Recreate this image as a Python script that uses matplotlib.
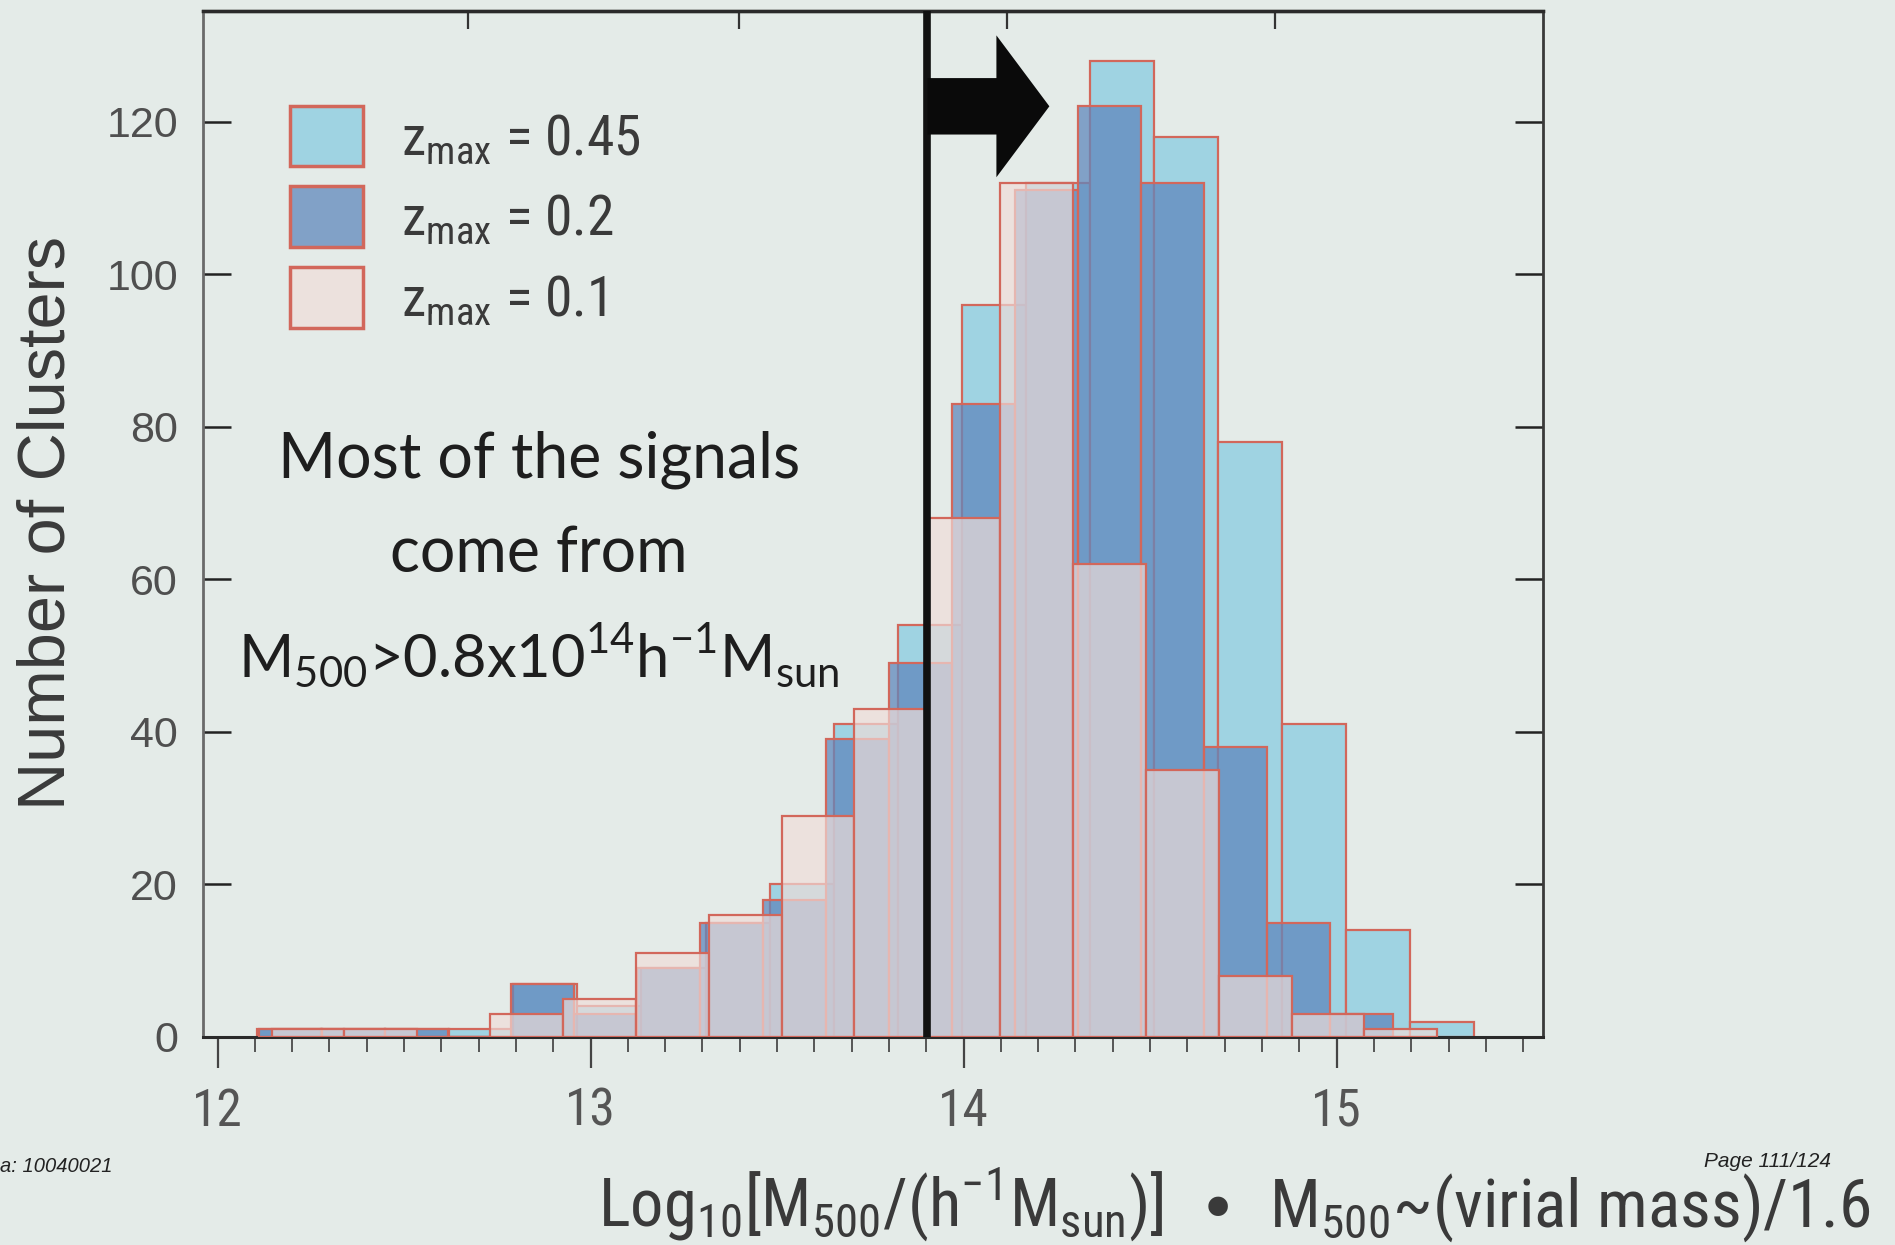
import numpy as np
import matplotlib
matplotlib.use("Agg")
import matplotlib.pyplot as plt
from matplotlib import font_manager as fm
from matplotlib.patches import Patch, Polygon
from matplotlib.ticker import MultipleLocator, FixedLocator
from matplotlib.font_manager import FontProperties

# ---------------------------------------------------------------------------
# Cluster counts per bin of log10[M500 / (h^-1 Msun)] for three redshift cuts
# ---------------------------------------------------------------------------
series_labels = [r"z$_\mathregular{max}$ = 0.45",
                 r"z$_\mathregular{max}$ = 0.2",
                 r"z$_\mathregular{max}$ = 0.1"]

# z_max = 0.45
bins045_start, bins045_width = 12.107, 0.1716
counts_045 = [1, 1, 1, 1, 7, 4, 9, 15, 20, 41, 54, 96, 112, 128, 118, 78, 41, 14, 2]

# z_max = 0.2
bins02_start, bins02_width = 12.110, 0.1689
counts_02 = [1, 1, 1, 0, 7, 3, 9, 15, 18, 39, 49, 83, 111, 122, 112, 38, 15, 3]

# z_max = 0.1
bins01_start, bins01_width = 12.145, 0.1953
counts_01 = [1, 1, 0, 3, 5, 11, 16, 29, 43, 68, 112, 62, 35, 8, 3, 1]

# detection threshold M500 > 0.8e14 h^-1 Msun
mass_threshold = np.log10(0.8e14)

x_ticks = [12, 13, 14, 15]
y_ticks = [0, 20, 40, 60, 80, 100, 120]
top_ticks = [12.671, 13.398, 14.116, 14.835]

# ---------------------------------------------------------------------------
BG = "#e4ebe8"
EDGE = "#d2675b"
C_045 = (159 / 255, 211 / 255, 226 / 255, 1.0)
C_02 = (96 / 255, 136 / 255, 189 / 255, 0.75)
C_01 = (240 / 255, 221 / 255, 217 / 255, 0.68)

plt.rcParams["font.family"] = ["Liberation Sans", "DejaVu Sans"]

# pick a narrow sans face for the condensed labels, if one is installed
_entries = fm.fontManager.ttflist
_names = {f.name for f in _entries}
NARROW = None
for cand in ["Liberation Sans Narrow", "Arial Narrow", "Roboto Condensed",
             "Open Sans Condensed", "Noto Sans Condensed"]:
    if cand in _names:
        NARROW = FontProperties(family=cand)
        break
if NARROW is None:
    if any(f.name == "DejaVu Sans" and f.stretch == "condensed" for f in _entries):
        NARROW = FontProperties(family="DejaVu Sans", stretch="condensed")
    else:
        NARROW = FontProperties(family="Liberation Sans")


def narrow(size, **kw):
    p = NARROW.copy()
    p.set_size(size)
    for k, v in kw.items():
        getattr(p, "set_" + k)(v)
    return p


fig = plt.figure(figsize=(18.95, 12.45), dpi=100, facecolor=BG)
ax = fig.add_axes([0.1071, 0.1671, 0.7071, 0.8241], facecolor=BG)


def draw_hist(start, width, counts, color, z, label):
    counts = np.asarray(counts, dtype=float)
    lefts = start + width * np.arange(len(counts))
    return ax.bar(lefts, counts, width=width, align="edge", color=color,
                  edgecolor=EDGE, linewidth=1.6, zorder=z, label=label)


draw_hist(bins045_start, bins045_width, counts_045, C_045, 2, series_labels[0])
draw_hist(bins02_start, bins02_width, counts_02, C_02, 3, series_labels[1])
draw_hist(bins01_start, bins01_width, counts_01, C_01, 4, series_labels[2])

# threshold line and arrow pointing to the high-mass side
ax.axvline(mass_threshold, color="#111111", lw=5.5, zorder=6)
arrow_yc, body_half, head_half = 122.0, 3.7, 9.3
head_x, tip_x = 14.088, 14.23
arrow = Polygon([(mass_threshold, arrow_yc - body_half),
                 (head_x, arrow_yc - body_half),
                 (head_x, arrow_yc - head_half),
                 (tip_x, arrow_yc),
                 (head_x, arrow_yc + head_half),
                 (head_x, arrow_yc + body_half),
                 (mass_threshold, arrow_yc + body_half)],
                closed=True, facecolor="#0a0a0a", edgecolor="none", zorder=7)
ax.add_patch(arrow)

# axes ranges and ticks
ax.set_xlim(11.961, 15.553)
ax.set_ylim(0, 134.5)
ax.set_xticks(x_ticks)
ax.xaxis.set_minor_locator(MultipleLocator(0.1))
ax.set_yticks(y_ticks)
ax.tick_params(axis="x", which="major", direction="out", length=22, width=1.6,
               color="#444444", pad=14, top=False, labelcolor="#555555")
ax.tick_params(axis="x", which="minor", direction="out", length=11, width=1.4,
               color="#555555", top=False)
ax.tick_params(axis="y", which="major", direction="in", length=20, width=1.8,
               color="#222222", left=True, right=True, pad=18,
               labelsize=31, labelcolor="#4f4f4f")
for lab in ax.get_xticklabels():
    lab.set_fontproperties(narrow(37))

top = ax.secondary_xaxis("top")
top.xaxis.set_major_locator(FixedLocator(top_ticks))
top.tick_params(direction="in", length=13, width=1.6, color="#333333", labeltop=False)
top.spines["top"].set_linewidth(2.4)
top.spines["top"].set_color("#2a2a2a")

for side, col, lw in [("left", "#6a6a6a", 2.0), ("right", "#3a3a3a", 2.0),
                      ("top", "#2a2a2a", 2.4), ("bottom", "#2a2a2a", 2.2)]:
    ax.spines[side].set_color(col)
    ax.spines[side].set_linewidth(lw)

# axis labels
ax.set_ylabel("Number of Clusters", fontsize=48, color="#3a3a3a")
ax.yaxis.label.set_va("center")
ax.yaxis.set_label_coords(-0.116, 0.501)

ax.set_xlabel(r"Log$_\mathregular{10}$[M$_\mathregular{500}$/(h$^\mathregular{-1}$M$_\mathregular{sun}$)]",
              fontproperties=narrow(47), color="#3a3a3a")
ax.xaxis.label.set_ha("left")
ax.xaxis.label.set_va("baseline")
ax.xaxis.set_label_coords(0.2948, -0.1849)

note = fig.text(0.9873, 0.0148, r"$\bullet$  M$_\mathregular{500}$~(virial mass)/1.6",
                fontproperties=narrow(47), color="#3a3a3a", ha="right", va="baseline")

# legend
handles = [Patch(facecolor=C_045, edgecolor=EDGE, linewidth=2.5),
           Patch(facecolor=C_02, edgecolor=EDGE, linewidth=2.5),
           Patch(facecolor=C_01, edgecolor=EDGE, linewidth=2.5)]
leg = ax.legend(handles, series_labels, loc="upper left",
                bbox_to_anchor=(0.0649, 0.9075), frameon=False,
                prop=narrow(40),
                handlelength=1.31, handleheight=1.30, handletextpad=0.685,
                labelspacing=0.36, borderpad=0, borderaxespad=0)
for t in leg.get_texts():
    t.set_color("#3a3a3a")

# annotation
ann_kw = dict(transform=ax.transAxes, ha="center", va="baseline", fontsize=46,
              color="#1e1e1e", family=["Lato", "DejaVu Sans"], zorder=8)
ann1 = ax.text(0.2507, 0.5457, "Most of the signals", **ann_kw)
ann2 = ax.text(0.2507, 0.4535, "come from", **ann_kw)
ann3 = ax.text(0.2507, 0.351,
               r"M$_\mathregular{500}$>0.8x10$^\mathregular{14}$h$^\mathregular{-1}$M$_\mathregular{sun}$",
               **ann_kw)

# slide footer
fig.text(0.0, 0.0632, "a: 10040021", fontsize=14.5, style="italic",
         color="#222222", ha="left", va="center")
fig.text(0.9662, 0.0672, "Page 111/124", fontsize=15, style="italic",
         color="#222222", ha="right", va="center")

# size the wide labels to their measured extents in pixels
fig.canvas.draw()
renderer = fig.canvas.get_renderer()


def fit_width(text, target_px, max_size=None):
    w = text.get_window_extent(renderer).width
    size = text.get_fontsize() * target_px / w
    if max_size is not None:
        size = min(size, max_size)
    text.set_fontsize(size)
    return size


fit_width(ax.xaxis.label, 565, 48)
fit_width(note, 675, 51)
s1 = fit_width(ann1, 522, 50)
ann2.set_fontsize(s1)
fit_width(ann3, 601, 50)

fig.savefig("out.png", dpi=100, facecolor=BG)
